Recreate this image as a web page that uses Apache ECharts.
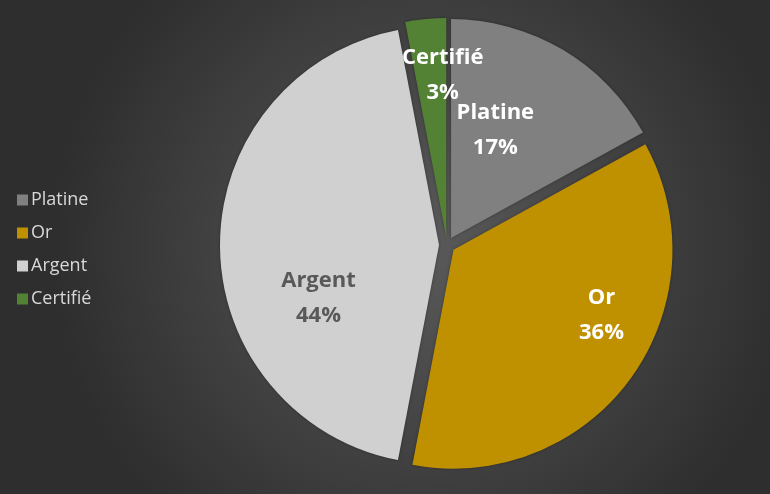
<!DOCTYPE html>
<html>
<head>
<meta charset="utf-8">
<script src="https://cdn.jsdelivr.net/npm/echarts@6/dist/echarts.min.js"></script>
<style>
  html, body { margin: 0; padding: 0; }
  #chart { width: 770px; height: 494px; }
</style>
</head>
<body>
<div id="chart"></div>
<script>
// données du graphique
const categories = ['Platine', 'Or', 'Argent', 'Certifié'];
const values = [17, 36, 44, 3];
const colors = ['#808080', '#bf9000', '#d0d0d0', '#548235'];
const labelColors = ['#ffffff', '#ffffff', '#595959', '#ffffff'];
// décalage des étiquettes (comme le "meilleur ajustement" d'Excel)
const labelShifts = [[-13, -11], [57, -1], [-8, 53], [7, -50]];

const chart = echarts.init(document.getElementById('chart'));

const option = {
  animation: false,
  backgroundColor: {
    type: 'radial', x: 0.55, y: 0.5, r: 0.75,
    colorStops: [
      { offset: 0, color: '#5a5a5a' },
      { offset: 1, color: '#2e2e2e' }
    ]
  },
  legend: {
    orient: 'vertical',
    left: 12,
    top: 185,
    itemWidth: 11,
    itemHeight: 11,
    itemGap: 13,
    icon: 'rect',
    data: categories,
    textStyle: {
      color: '#d9d9d9',
      fontFamily: 'Open Sans',
      fontSize: 18,
      lineHeight: 20,
      padding: [0, 0, 0, -2]
    }
  },
  series: [
    {
      type: 'pie',
      center: [447, 245],
      radius: 219,
      startAngle: 90,
      clockwise: true,
      avoidLabelOverlap: false,
      selectedMode: 'multiple',
      selectedOffset: 8,
      label: {
        position: 'inside',
        formatter: '{b}\n{d}%',
        fontFamily: 'Open Sans',
        fontWeight: 'bold',
        fontSize: 22,
        lineHeight: 35
      },
      labelLine: { show: false },
      labelLayout: function (params) {
        const s = labelShifts[params.dataIndex];
        return { dx: s[0], dy: s[1], hideOverlap: false };
      },
      emphasis: { disabled: true },
      data: categories.map((name, i) => ({
        name: name,
        value: values[i],
        selected: true,
        itemStyle: {
          color: colors[i],
          shadowColor: 'rgba(0,0,0,0.35)',
          shadowBlur: 3
        },
        label: { color: labelColors[i] }
      }))
    }
  ]
};

chart.setOption(option);
</script>
</body>
</html>
